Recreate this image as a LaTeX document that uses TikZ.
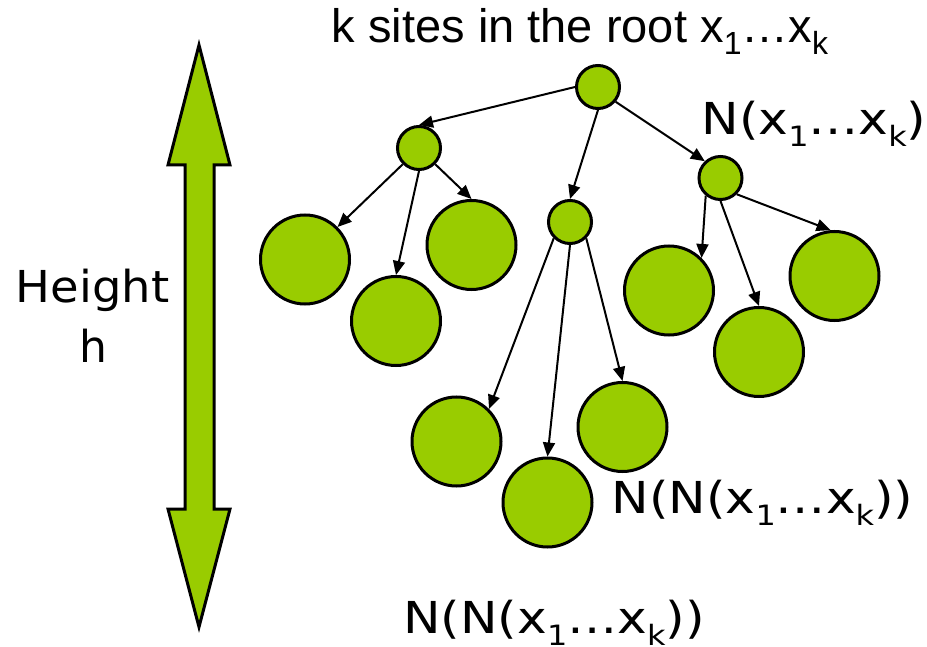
\documentclass[tikz,border=0pt]{standalone}
\usepackage{fontspec}
\setmainfont{Liberation Sans}
\newfontfamily\dvs{DejaVu Sans}
\usetikzlibrary{arrows.meta}
\definecolor{leafgreen}{HTML}{99CC00}
\newcommand\subA[1]{\raisebox{-12pt}[0pt][0pt]{\fontsize{32}{32}\selectfont #1}}
\newcommand\subB[1]{\raisebox{-12pt}[0pt][0pt]{\fontsize{28}{28}\selectfont #1}}
\newcommand\wideN[1]{\scalebox{1.14}[1]{#1}}
\begin{document}
\begin{tikzpicture}[x=1pt,y=-1pt,
  site/.style={circle, draw=black, line width=3pt, fill=leafgreen, inner sep=0pt},
  sitesmall/.style={site, minimum size=43pt},
  sitebig/.style={site, minimum size=89pt},
  edge/.style={line width=2pt, -{Triangle[length=14pt,width=12pt]}},
  lab/.style={font=\dvs\fontsize{44}{53}\selectfont, inner sep=0pt, anchor=base},
  bigarrow/.style={draw=black, fill=leafgreen, line width=3pt, line join=miter}]
\useasboundingbox (0,0) rectangle (927,647);
% double arrow
\draw[bigarrow] (199,45) -- (230,165) -- (214,165) -- (214,509) -- (230,509) -- (199,627)
  -- (168,509) -- (185,509) -- (185,165) -- (168,165) -- cycle;
\node[lab] (hA) at (92.5,303) {\scalebox{1.055}[1]{Height}};
\node[lab] (hB) at (93,362) {h};
% tree
\node[sitesmall] (root) at (598,87) {};
\node[sitesmall] (l1a) at (419,148) {};
\node[sitesmall] (l1b) at (570,222) {};
\node[sitesmall] (l1c) at (720.5,178) {};
\node[sitebig] (a) at (305,259.5) {};
\node[sitebig] (b) at (396,321) {};
\node[sitebig] (c) at (471.5,245) {};
\node[sitebig] (d) at (456.5,441.5) {};
\node[sitebig] (e) at (547.5,502.5) {};
\node[sitebig] (f) at (622.5,427) {};
\node[sitebig] (g) at (669,290.5) {};
\node[sitebig] (h) at (759,352) {};
\node[sitebig] (i) at (834.5,276) {};
\draw[edge] (root.180) -- (l1a.90);
\draw[edge] (root.270) -- (l1b.90);
\draw[edge] (root.-40) -- (l1c.133);
\draw[edge] (l1a.225) -- (a.45);
\draw[edge] (l1a.270) -- (b.90);
\draw[edge] (l1a.-45) -- (c.90);
\draw[edge] (l1b.225) -- (d.45);
\draw[edge] (l1b.270) -- (e.90);
\draw[edge] (l1b.-45) -- (f.90);
\draw[edge] (l1c.230) -- (g.45);
\draw[edge] (l1c.270) -- (h.90);
\draw[edge] (l1c.-45) -- (i.95);
% labels
\node[inner sep=0pt, anchor=base, font=\fontsize{47}{56}\selectfont] (title) at (580,43)
  {k sites in the root x\subA{1}…x\subA{k}};
\node[lab] (n1) at (814,135) {\wideN{N(x\subB{1}…x\subB{k})}};
\node[lab] (n2) at (762.5,513) {\wideN{N(N(x\subB{1}…x\subB{k}))}};
\node[lab] (n3) at (554,633) {\wideN{N(N(x\subB{1}…x\subB{k}))}};
\end{tikzpicture}
\end{document}
